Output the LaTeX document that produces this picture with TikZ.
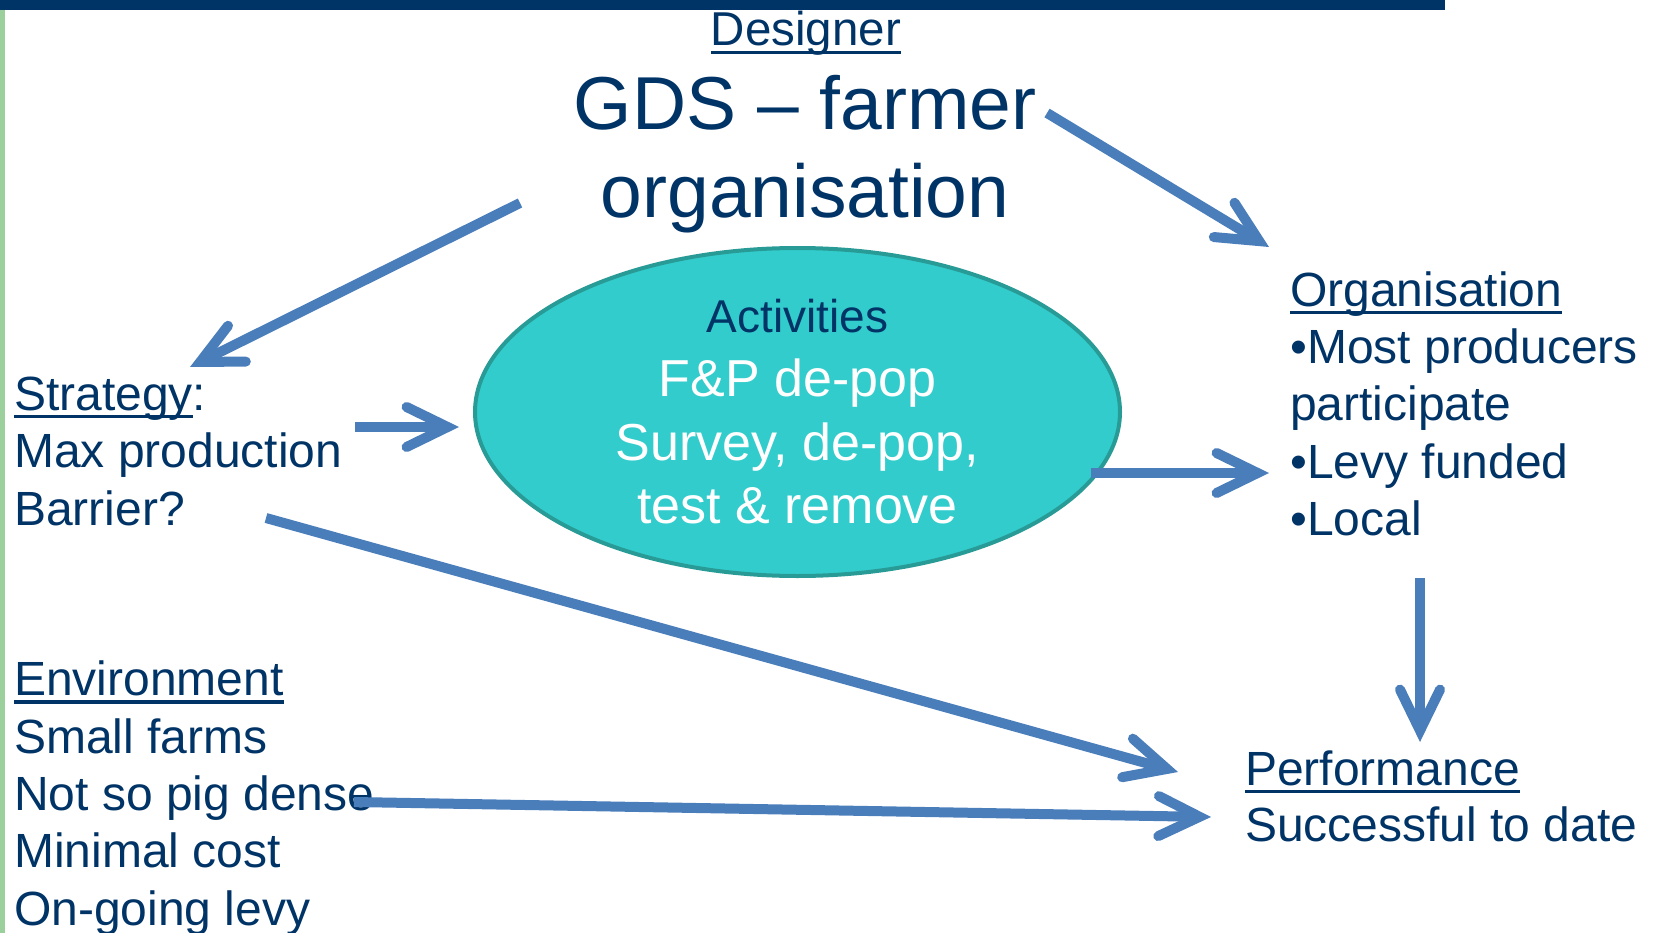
\documentclass[tikz,border=0pt]{standalone}
\usepackage{fontspec}
\setmainfont{Liberation Sans}
\usetikzlibrary{arrows.meta,shapes.geometric}
\definecolor{navy}{RGB}{0,51,102}
\definecolor{arrowblue}{RGB}{74,126,187}
\definecolor{tealfill}{RGB}{51,204,204}
\definecolor{tealline}{RGB}{40,155,150}
\definecolor{sidegreen}{RGB}{155,207,155}
\newcommand{\myul}[1]{\setbox0\hbox{#1}\rlap{\rule[-8pt]{\wd0}{3.4pt}}\box0}
\begin{document}
\begin{tikzpicture}[x=1pt,y=-1pt,
  blk/.style={anchor=base west, inner sep=0pt, align=left, text=navy, font=\fontsize{48}{57.3}\selectfont},
  conn/.style={draw=arrowblue, line width=10pt, -{Straight Barb[length=41pt,width=40pt,line cap=round,line join=miter]}},
]
\useasboundingbox (0,0) rectangle (1653,933);
\fill[navy] (0,0) rectangle (1445,10.5);
\fill[sidegreen] (0,10.5) rectangle (4.5,933);

% multi-line nodes: the base anchor lies on the last line's baseline
\node[anchor=base, inner sep=0pt, text=navy, font=\fontsize{47.5}{55}\selectfont] (designer) at (806,46) {\myul{Designer}};
\node[anchor=base, inner sep=0pt, align=center, text=navy, font=\fontsize{75}{88}\selectfont] (gds) at (805,218) {GDS – farmer\\organisation};

\node[ellipse, draw=tealline, line width=4pt, fill=tealfill, minimum width=645pt, minimum height=328pt, inner sep=0pt, align=center, text=white, font=\fontsize{52}{63.7}\selectfont] (act) at (797.5,412) {{\color{navy}\fontsize{46}{63.7}\selectfont Activities}\\F\&P de-pop\\Survey, de-pop,\\test \& remove};

\node[blk] (strategy) at (14,525) {\myul{Strategy}:\\Max production\\Barrier?};
\node[blk] (environment) at (14,925) {\myul{Environment}\\Small farms\\Not so pig dense\\Minimal cost\\On-going levy};
\node[blk] (organisation) at (1290,535.5) {\myul{Organisation}\\•Most producers\\participate\\•Levy funded\\•Local};
\node[blk, font=\fontsize{48}{56}\selectfont] (performance) at (1245,841) {\myul{Performance}\\Successful to date};

\coordinate (a1s) at (520,203);  \coordinate (a1e) at (190,367);
\coordinate (a2s) at (1047,113); \coordinate (a2e) at (1269,247);
\coordinate (a3s) at (355,427);  \coordinate (a3e) at (459,427);
\coordinate (a4s) at (1091,473); \coordinate (a4e) at (1269,473);
\coordinate (a5s) at (266,518);  \coordinate (a5e) at (1178,772);
\coordinate (a6s) at (354,802);  \coordinate (a6e) at (1211,817);
\coordinate (a7s) at (1420,578); \coordinate (a7e) at (1420,742);

\draw[conn] (a1s) -- (a1e);
\draw[conn] (a2s) -- (a2e);
\draw[conn] (a3s) -- (a3e);
\draw[conn] (a4s) -- (a4e);
\draw[conn] (a5s) -- (a5e);
\draw[conn] (a6s) -- (a6e);
\draw[conn] (a7s) -- (a7e);
\end{tikzpicture}
\end{document}
